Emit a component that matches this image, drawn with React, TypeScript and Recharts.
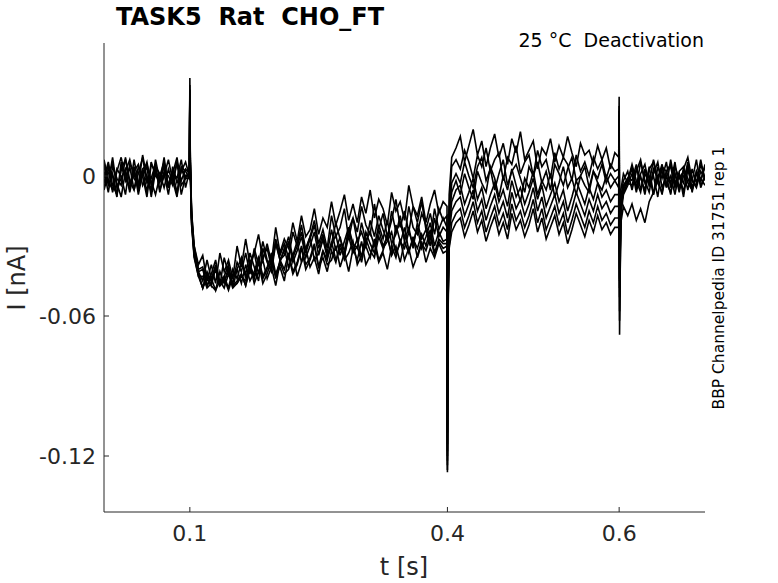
import { LineChart, Line, XAxis, YAxis } from 'recharts';

// sample times [s], split by protocol segment
const baseT = [0, 0.005, 0.01, 0.015, 0.02, 0.025, 0.03, 0.035, 0.04, 0.045, 0.05, 0.055, 0.06, 0.065, 0.07, 0.075, 0.08, 0.085, 0.09, 0.095];
const step1T = [0.0995, 0.1, 0.1005, 0.102, 0.105, 0.11];
const pulseT = [
  0.115, 0.12, 0.125, 0.13, 0.135, 0.14, 0.145, 0.15, 0.155, 0.16,
  0.165, 0.17, 0.175, 0.18, 0.185, 0.19, 0.195, 0.2, 0.205, 0.21,
  0.215, 0.22, 0.225, 0.23, 0.235, 0.24, 0.245, 0.25, 0.255, 0.26,
  0.265, 0.27, 0.275, 0.28, 0.285, 0.29, 0.295, 0.3, 0.305, 0.31,
  0.315, 0.32, 0.325, 0.33, 0.335, 0.34, 0.345, 0.35, 0.355, 0.36,
  0.365, 0.37, 0.375, 0.38, 0.385, 0.39, 0.395,
];
const step2T = [0.3995, 0.4, 0.4005, 0.402, 0.405, 0.41];
const tailT = [
  0.415, 0.42, 0.425, 0.43, 0.435, 0.44, 0.445, 0.45, 0.455, 0.46,
  0.465, 0.47, 0.475, 0.48, 0.485, 0.49, 0.495, 0.5, 0.505, 0.51,
  0.515, 0.52, 0.525, 0.53, 0.535, 0.54, 0.545, 0.55, 0.555, 0.56,
  0.565, 0.57, 0.575, 0.58, 0.585, 0.59, 0.595,
];
const step3T = [0.5995, 0.6, 0.6005, 0.602, 0.605, 0.61];
const endT = [0.615, 0.62, 0.625, 0.63, 0.635, 0.64, 0.645, 0.65, 0.655, 0.66, 0.665, 0.67, 0.675, 0.68, 0.685, 0.69, 0.695, 0.7];

// currents in pA (one sweep per array)
const trace1 = [
  6, -4, 1, -8, 3, 7, -2, -6, 4, 0, -9, 5, 2, -3, 8, -5, 1, -7, 3, -1,
  2, 42, 8, -15, -30, -38,
  -34, -45, -38, -46, -33, -41, -36, -44, -30, -39,
  -27, -38, -33, -25, -36, -29, -37, -22, -33, -27,
  -31, -20, -28, -17, -26, -23, -14, -25, -18, -22,
  -11, -21, -15, -8, -19, -12, -20, -9, -16, -6,
  -18, -10, -14, -21, -7, -15, -11, -19, -4, -13,
  -17, -9, -20, -12, -6, -16, -11,
  -13, -118, -50, -8, 8, 12,
  17, 6, 13, 20, 9, 15, 4, 12, 18, 8,
  14, 5, 16, 10, 19, 7, 11, 15, 3, 12,
  9, 16, 6, 13, 8, 17, 10, 4, 14, 9,
  11, 5, 13, 7, 12, 3, 10,
  8, 34, -40, -6, 1, -3,
  4, -5, 0, -8, 3, 6, -3, -7, 2, 5, -4, 1, -9, 3, -2, 7, -5, 0,
];
const trace2 = [
  -3, 5, -7, 2, 8, -1, -5, 4, -8, 1, 6, -4, 3, -6, 0, 7, -2, -9, 4, 2,
  -1, 37, 5, -18, -32, -41,
  -45, -36, -44, -39, -47, -35, -42, -46, -37, -41,
  -33, -42, -31, -38, -28, -36, -40, -27, -34, -29,
  -35, -24, -30, -21, -32, -26, -19, -29, -23, -31,
  -17, -26, -22, -14, -27, -18, -24, -13, -21, -25,
  -12, -23, -16, -26, -19, -10, -22, -15, -24, -13,
  -20, -11, -23, -16, -25, -14, -19,
  -17, -124, -58, -14, 4, 7,
  3, 11, 6, -1, 9, 4, 12, 2, 7, 10,
  -2, 8, 5, 13, 1, 6, 9, 0, 11, 4,
  7, -1, 10, 3, 8, 5, -2, 9, 2, 6,
  0, 8, 3, 7, -1, 5, 2,
  3, 28, -52, -9, -2, 2,
  -6, 2, 7, -3, 0, -8, 4, -1, 6, -5, 1, -7, 3, 8, -2, -4, 5, -1,
];
const trace3 = [
  7, -2, -6, 3, 0, -8, 5, 2, -4, 9, -1, -7, 4, 1, -5, 3, -3, 6, -8, 0,
  0, 39, 7, -16, -30, -40,
  -39, -47, -42, -36, -46, -43, -38, -48, -40, -35,
  -44, -37, -33, -42, -35, -31, -39, -28, -36, -32,
  -26, -35, -30, -24, -33, -27, -21, -31, -25, -34,
  -29, -20, -27, -32, -23, -18, -28, -24, -30, -19,
  -26, -17, -23, -28, -15, -24, -20, -27, -13, -22,
  -25, -16, -21, -27, -14, -23, -18,
  -22, -127, -62, -18, -3, 1,
  -3, 6, 0, -5, 4, 8, -2, 3, -6, 1,
  7, -4, 2, 5, -1, -7, 4, 0, 6, -3,
  2, -6, 5, 1, -4, 3, 8, -2, 0, 4,
  -5, 2, -1, 5, -3, 1, -2,
  0, 22, -68, -13, -4, -1,
  3, -7, 1, 5, -4, 0, -9, 4, 2, -3, 6, -6, 0, 3, -5, 1, -2, 4,
];
const trace4 = [
  -5, 3, 0, -9, 6, -2, 4, -6, 1, 8, -3, -1, 5, -7, 2, 0, -4, 6, -2, 3,
  1, 33, 3, -20, -34, -42,
  -48, -41, -45, -38, -46, -43, -48, -40, -44, -37,
  -42, -33, -39, -45, -31, -37, -41, -29, -36, -34,
  -28, -37, -32, -26, -35, -30, -24, -34, -27, -33,
  -23, -32, -26, -35, -22, -29, -31, -20, -28, -24,
  -30, -21, -27, -19, -29, -25, -17, -28, -22, -31,
  -20, -27, -23, -30, -18, -26, -22,
  -24, -110, -50, -17, -7, -2,
  -8, 1, -5, -10, 2, -3, -7, 4, -1, -9,
  0, -6, 3, -4, -11, -1, -5, 2, -8, -2,
  -6, 1, -9, -3, 4, -5, -1, -8, 0, -4,
  -7, 2, -3, -6, 0, -5, -2,
  -5, 18, -45, -11, -5, -1,
  -2, 5, -6, 1, -3, 7, -1, -8, 2, 4, -5, 0, -3, 6, -7, 2, -1, -4,
];
const trace5 = [
  2, -7, 4, -1, -4, 8, -3, 1, -6, 3, 5, -2, -8, 0, 6, -4, 2, -1, 7, -5,
  2, 37, 5, -18, -32, -41,
  -40, -47, -44, -49, -41, -46, -39, -47, -45, -42,
  -47, -38, -43, -35, -44, -40, -33, -42, -37, -31,
  -39, -34, -28, -37, -31, -26, -36, -33, -27, -35,
  -30, -25, -34, -28, -22, -32, -27, -35, -24, -29,
  -33, -23, -30, -26, -34, -21, -28, -31, -24, -29,
  -22, -31, -26, -20, -30, -24, -28,
  -27, -122, -60, -22, -11, -6,
  -4, -12, -7, -1, -10, -5, -14, -8, -3, -11,
  -6, -13, -2, -9, -5, -12, -7, -1, -10, -4,
  -13, -8, -3, -11, -6, -15, -9, -2, -7, -12,
  -5, -10, -3, -9, -6, -11, -8,
  -8, 26, -58, -15, -6, -2,
  5, -2, -7, 3, -4, 1, 6, -5, 0, -8, 4, -1, 2, -6, 3, -3, 7, -2,
];
const trace6 = [
  -1, 6, -4, -8, 3, 1, -6, 7, -3, 0, 4, -9, 2, -2, 5, -5, 1, 8, -4, -1,
  -1, 35, 6, -17, -33, -42,
  -48, -42, -47, -39, -47, -44, -49, -43, -40, -46,
  -38, -45, -41, -35, -43, -39, -34, -44, -36, -40,
  -33, -41, -37, -30, -38, -35, -29, -39, -32, -36,
  -28, -36, -31, -34, -26, -33, -30, -37, -27, -32,
  -35, -26, -31, -28, -24, -33, -29, -22, -32, -27,
  -31, -25, -30, -23, -33, -27, -29,
  -29, -115, -54, -25, -15, -11,
  -9, -17, -12, -6, -15, -10, -19, -13, -8, -16,
  -11, -18, -7, -14, -10, -17, -12, -5, -15, -9,
  -18, -13, -8, -16, -11, -20, -14, -7, -12, -17,
  -10, -15, -8, -14, -11, -16, -13,
  -13, 20, -48, -14, -7, -3,
  -4, 3, -1, -6, 4, -8, 0, 2, -5, 7, -3, 1, -7, 4, -2, -5, 2, -1,
];
const trace7 = [
  4, -3, 8, -5, -1, 3, -7, 2, 5, -4, 0, -6, 7, -2, 1, -8, 4, -3, 2, 6,
  0, 32, 2, -21, -35, -43,
  -43, -48, -46, -40, -47, -45, -41, -48, -46, -42,
  -47, -40, -44, -37, -46, -42, -36, -43, -39, -45,
  -34, -42, -38, -31, -40, -36, -30, -39, -35, -41,
  -32, -37, -29, -36, -33, -28, -38, -34, -30, -35,
  -27, -36, -32, -25, -34, -30, -37, -28, -33, -26,
  -35, -29, -32, -26, -34, -28, -31,
  -30, -126, -64, -30, -20, -16,
  -14, -22, -17, -11, -20, -15, -24, -18, -13, -21,
  -16, -23, -12, -19, -15, -22, -17, -10, -20, -14,
  -23, -18, -13, -21, -16, -25, -19, -12, -17, -22,
  -15, -20, -13, -19, -16, -21, -18,
  -18, 30, -62, -17, -8, -4,
  1, -5, 6, -2, -7, 3, -1, 5, -4, 0, -8, 2, 4, -3, -6, 1, -2, 5,
];
const trace8 = [
  -6, 1, 5, -3, -9, 2, 7, -1, -4, 3, -7, 6, 0, -2, 4, -5, 1, -8, 3, 0,
  1, 34, 4, -19, -34, -43,
  -48, -44, -47, -49, -45, -48, -42, -47, -46, -43,
  -45, -38, -46, -41, -36, -44, -39, -47, -37, -42,
  -40, -33, -43, -37, -31, -39, -35, -42, -32, -38,
  -36, -30, -39, -33, -41, -31, -36, -28, -38, -34,
  -29, -37, -33, -40, -30, -35, -27, -36, -31, -39,
  -34, -28, -37, -31, -35, -29, -33,
  -32, -120, -58, -31, -24, -20,
  -18, -26, -21, -15, -24, -19, -28, -22, -17, -25,
  -20, -27, -16, -23, -19, -26, -21, -14, -24, -18,
  -27, -22, -17, -25, -20, -29, -23, -16, -21, -26,
  -19, -24, -17, -23, -20, -25, -22,
  -22, 15, -44, -20, -13, -17,
  -12, -19, -14, -20, -11, -7, -2, 4, -3, -7, 1, -5, 3, -1, -6, 2, -4, 0,
];

const traces = [trace1, trace2, trace3, trace4, trace5, trace6, trace7, trace8];
const times = [...baseT, ...step1T, ...pulseT, ...step2T, ...tailT, ...step3T, ...endT];
const xTicks = [0.1, 0.4, 0.6];
const yTicks = [-120, -60, 0];

const rows = times.map((t, k) => {
  const row: Record<string, number> = { t };
  traces.forEach((tr, j) => {
    row['s' + j] = tr[k];
  });
  return row;
});

const font = '"DejaVu Sans", sans-serif';
const axisColor = '#262626';

export default function App() {
  return (
    <div style={{ position: 'absolute', left: 0, top: 0, width: 778, height: 583, background: '#fff', fontFamily: font }}>
      <LineChart width={778} height={583} data={rows} margin={{ top: 43, right: 73, bottom: 41, left: 44 }}>
        <XAxis
          type="number"
          dataKey="t"
          domain={[0, 0.7]}
          ticks={xTicks}
          tickFormatter={(v) => String(v)}
          height={30}
          tickSize={-5}
          tickMargin={18}
          stroke={axisColor}
          tick={{ fill: axisColor, fontSize: 22, fontFamily: font }}
          allowDataOverflow
        />
        <YAxis
          type="number"
          domain={[-144, 57]}
          ticks={yTicks}
          tickFormatter={(v) => (v === 0 ? '0' : String(v / 1000))}
          width={60}
          tickSize={-5}
          tickMargin={13}
          stroke={axisColor}
          tick={{ fill: axisColor, fontSize: 22, fontFamily: font }}
          allowDataOverflow
        />
        {traces.map((_, j) => (
          <Line
            key={j}
            dataKey={'s' + j}
            stroke="#000"
            strokeWidth={1.6}
            dot={false}
            isAnimationActive={false}
            type="linear"
          />
        ))}
      </LineChart>
      <div style={{ position: 'absolute', left: 116, top: 3, fontSize: 24, fontWeight: 'bold', whiteSpace: 'pre', color: '#000' }}>
        {'TASK5  Rat  CHO_FT'}
      </div>
      <div style={{ position: 'absolute', right: 74, top: 29, fontSize: 19, whiteSpace: 'pre', color: '#000' }}>
        {'25 °C  Deactivation'}
      </div>
      <div style={{ position: 'absolute', left: 404, top: 567, transform: 'translate(-50%, -50%)', fontSize: 24, color: axisColor, whiteSpace: 'pre' }}>
        t [s]
      </div>
      <div style={{ position: 'absolute', left: 17, top: 278, transform: 'translate(-50%, -50%) rotate(-90deg)', fontSize: 24, color: axisColor, whiteSpace: 'pre' }}>
        I [nA]
      </div>
      <div style={{ position: 'absolute', left: 719, top: 278, transform: 'translate(-50%, -50%) rotate(-90deg)', fontSize: 15.5, color: '#000', whiteSpace: 'pre' }}>
        BBP Channelpedia ID 31751 rep 1
      </div>
    </div>
  );
}
